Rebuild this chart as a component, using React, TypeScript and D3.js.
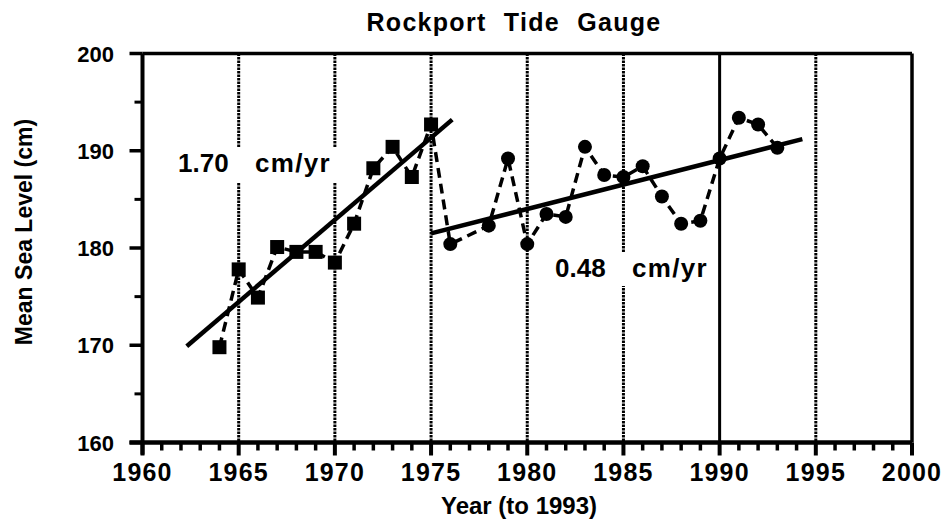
import React from 'react';
import * as d3 from 'd3';

const squareYears = [1964, 1965, 1966, 1967, 1968, 1969, 1970, 1971, 1972, 1973, 1974, 1975];
const squareValues = [169.8, 177.8, 174.9, 180.1, 179.6, 179.6, 178.5, 182.5, 188.2, 190.4, 187.3, 192.7];
const circleYears = [1976, 1978, 1979, 1980, 1981, 1982, 1983, 1984, 1985, 1986, 1987, 1988, 1989, 1990, 1991, 1992, 1993];
const circleValues = [180.4, 182.3, 189.2, 180.4, 183.5, 183.2, 190.4, 187.5, 187.3, 188.4, 185.3, 182.5, 182.8, 189.2, 193.4, 192.7, 190.3];
const trendEarlyYears = [1962.3, 1976.1];
const trendEarlyValues = [169.9, 193.2];
const trendLateYears = [1975.0, 1994.3];
const trendLateValues = [181.5, 191.2];
const xTickLabels = [1960, 1965, 1970, 1975, 1980, 1985, 1990, 1995, 2000];
const yTickLabels = [160, 170, 180, 190, 200];
const gridYears = [1965, 1970, 1975, 1980, 1985, 1990, 1995];
const title = 'Rockport Tide Gauge';
const xTitle = 'Year (to 1993)';
const yTitle = 'Mean Sea Level (cm)';
const rateEarly = ['1.70', 'cm/yr'];
const rateLate = ['0.48', 'cm/yr'];

const FONT = '"Liberation Sans", Arial, Helvetica, sans-serif';

export default function App() {
  const W = 951, H = 529;
  const x = d3.scaleLinear().domain([1960, 2000]).range([142.5, 912]);
  const y = d3.scaleLinear().domain([160, 200]).range([442.5, 53.5]);

  const allPts: [number, number][] = [
    ...squareYears.map((yr, i) => [yr, squareValues[i]] as [number, number]),
    ...circleYears.map((yr, i) => [yr, circleValues[i]] as [number, number]),
  ];
  const line = d3.line<[number, number]>().x(d => x(d[0])).y(d => y(d[1]));
  const early: [number, number][] = trendEarlyYears.map((yr, i) => [yr, trendEarlyValues[i]]);
  const late: [number, number][] = trendLateYears.map((yr, i) => [yr, trendLateValues[i]]);

  const minorX = d3.range(1960, 2001, 1).filter(v => v % 5 !== 0);
  const minorY = d3.range(165, 200, 10);

  return (
    <svg width={W} height={H} style={{ position: 'absolute', left: 0, top: 0, background: '#fff' }}
      fontFamily={FONT}>
      <rect x={0} y={0} width={W} height={H} fill="#fff" />
      {/* grid */}
      {gridYears.map(g => (
        <line key={g} x1={x(g)} x2={x(g)} y1={y(200)} y2={y(160)}
          stroke="#000" strokeWidth={3}
          strokeDasharray={g === 1990 ? undefined : '2.5,1'} />
      ))}
      {/* text boxes masking grid */}
      <rect x={172} y={148} width={166} height={34} fill="#fff" />
      <rect x={548} y={252} width={164} height={34} fill="#fff" />
      <text x={178} y={172} fontSize={26} fontWeight="bold">{rateEarly[0]}</text>
      <text x={255} y={172} fontSize={26} fontWeight="bold" letterSpacing={1.3}>{rateEarly[1]}</text>
      <text x={555} y={277} fontSize={26} fontWeight="bold">{rateLate[0]}</text>
      <text x={632} y={277} fontSize={26} fontWeight="bold" letterSpacing={1.3}>{rateLate[1]}</text>

      {/* frame */}
      <line x1={x(1960)} x2={x(2000)} y1={y(200)} y2={y(200)} stroke="#000" strokeWidth={3.5} />
      <line x1={x(2000)} x2={x(2000)} y1={y(200)} y2={y(160)} stroke="#000" strokeWidth={3.5} />
      <line x1={x(1960)} x2={x(1960)} y1={y(200)} y2={y(160) + 12} stroke="#000" strokeWidth={4} />
      <line x1={x(1960) - 13} x2={x(2000)} y1={y(160)} y2={y(160)} stroke="#000" strokeWidth={4.5} />

      {/* x ticks */}
      {xTickLabels.map(t => (
        <g key={t}>
          <line x1={x(t)} x2={x(t)} y1={y(160)} y2={y(160) + 13} stroke="#000" strokeWidth={4} />
          <text x={x(t)} y={481} fontSize={25} fontWeight="bold" textAnchor="middle" letterSpacing={1.2}>{t}</text>
        </g>
      ))}
      {minorX.map(t => (
        <line key={t} x1={x(t)} x2={x(t)} y1={y(160)} y2={y(160) + 8} stroke="#000" strokeWidth={3.5} />
      ))}
      {/* y ticks */}
      {yTickLabels.map(t => (
        <g key={t}>
          <line x1={x(1960) - 13} x2={x(1960)} y1={y(t)} y2={y(t)} stroke="#000" strokeWidth={3.5} />
          <text x={114} y={y(t) + 8} fontSize={22} fontWeight="bold" textAnchor="end">{t}</text>
        </g>
      ))}
      {minorY.map(t => (
        <line key={t} x1={x(1960) - 8} x2={x(1960)} y1={y(t)} y2={y(t)} stroke="#000" strokeWidth={3} />
      ))}

      {/* trend lines */}
      <path d={line(early) || ''} fill="none" stroke="#000" strokeWidth={4.5} />
      <path d={line(late) || ''} fill="none" stroke="#000" strokeWidth={4.5} />

      {/* dashed data line */}
      <path d={line(allPts) || ''} fill="none" stroke="#000" strokeWidth={3.5} strokeDasharray="10,6" />

      {/* markers */}
      {squareYears.map((yr, i) => (
        <rect key={yr} x={x(yr) - 7} y={y(squareValues[i]) - 7} width={14} height={14} fill="#000" />
      ))}
      {circleYears.map((yr, i) => (
        <circle key={yr} cx={x(yr)} cy={y(circleValues[i])} r={7} fill="#000" />
      ))}

      {/* titles */}
      <text x={514} y={31} fontSize={25} fontWeight="bold" textAnchor="middle" letterSpacing={1.3} wordSpacing={9}>{title}</text>
      <text x={519} y={514} fontSize={24} fontWeight="bold" textAnchor="middle">{xTitle}</text>
      <text transform="translate(32,232) rotate(-90)" fontSize={23} fontWeight="bold" textAnchor="middle">{yTitle}</text>
    </svg>
  );
}
